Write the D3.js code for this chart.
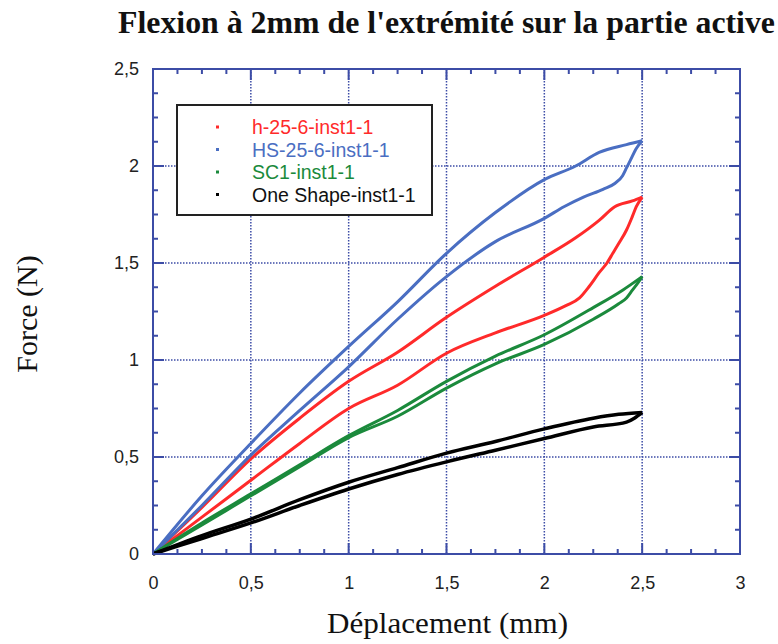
<!DOCTYPE html>
<html><head><meta charset="utf-8">
<script src="https://cdn.jsdelivr.net/npm/d3@7"></script>
<style>body{margin:0;background:#fff}svg{display:block}</style>
</head><body>
<script>
// ---- Data ----
const titleText = "Flexion à 2mm de l'extrémité sur la partie active";
const xLabel = "Déplacement (mm)";
const yLabel = "Force (N)";
const xTicks = [0, 0.5, 1, 1.5, 2, 2.5, 3];
const yTicks = [0, 0.5, 1, 1.5, 2, 2.5];
const seriesNames = ["h-25-6-inst1-1", "HS-25-6-inst1-1", "SC1-inst1-1", "One Shape-inst1-1"];
const seriesColors = ["#ff2a2a", "#4a6ec2", "#1b8a3c", "#000000"];

// loading branch (x, force) and unloading branch
const redLoadX  = [0, 0.25, 0.5, 0.75, 1, 1.25, 1.5, 1.75, 2, 2.16, 2.28, 2.36, 2.45, 2.5];
const redLoadY  = [0, 0.24, 0.49, 0.70, 0.89, 1.04, 1.22, 1.38, 1.53, 1.63, 1.72, 1.79, 1.82, 1.84];
const redUnlX   = [2.5, 2.47, 2.45, 2.42, 2.38, 2.35, 2.32, 2.28, 2.23, 2.18, 2.11, 2.0, 1.75, 1.5, 1.25, 1.0, 0.75, 0.5, 0.25, 0];
const redUnlY   = [1.84, 1.79, 1.74, 1.67, 1.60, 1.55, 1.50, 1.45, 1.38, 1.32, 1.28, 1.23, 1.14, 1.035, 0.87, 0.75, 0.57, 0.38, 0.19, 0];

const blueLoadX = [0, 0.25, 0.5, 0.75, 1, 1.25, 1.5, 1.75, 2, 2.16, 2.28, 2.42, 2.5];
const blueLoadY = [0, 0.30, 0.57, 0.83, 1.07, 1.30, 1.55, 1.76, 1.93, 2.0, 2.07, 2.11, 2.13];
const blueUnlX  = [2.5, 2.47, 2.44, 2.42, 2.4, 2.36, 2.3, 2.2, 2.1, 2.0, 1.75, 1.5, 1.25, 1.0, 0.75, 0.5, 0.25, 0];
const blueUnlY  = [2.13, 2.09, 2.03, 1.99, 1.95, 1.91, 1.88, 1.84, 1.79, 1.73, 1.61, 1.43, 1.21, 0.965, 0.74, 0.51, 0.25, 0];

const greenLoadX = [0, 0.25, 0.5, 0.75, 1, 1.25, 1.5, 1.75, 2, 2.25, 2.4, 2.5];
const greenLoadY = [0, 0.16, 0.31, 0.46, 0.61, 0.74, 0.89, 1.02, 1.13, 1.27, 1.36, 1.43];
const greenUnlX  = [2.5, 2.48, 2.45, 2.42, 2.38, 2.25, 2.0, 1.75, 1.5, 1.25, 1.0, 0.75, 0.5, 0.25, 0];
const greenUnlY  = [1.43, 1.40, 1.36, 1.32, 1.29, 1.21, 1.08, 0.98, 0.855, 0.71, 0.60, 0.45, 0.30, 0.15, 0];

const blackLoadX = [0, 0.25, 0.5, 0.75, 1, 1.25, 1.5, 1.75, 2, 2.25, 2.38, 2.5];
const blackLoadY = [0, 0.095, 0.18, 0.28, 0.37, 0.445, 0.52, 0.58, 0.645, 0.70, 0.72, 0.73];
const blackUnlX  = [2.5, 2.46, 2.42, 2.25, 2.0, 1.75, 1.5, 1.25, 1.0, 0.75, 0.5, 0.25, 0];
const blackUnlY  = [0.73, 0.70, 0.68, 0.655, 0.595, 0.535, 0.475, 0.41, 0.335, 0.25, 0.16, 0.08, 0];

const series = [
  {name: seriesNames[0], color: seriesColors[0], branches: [[redLoadX, redLoadY], [redUnlX, redUnlY]]},
  {name: seriesNames[1], color: seriesColors[1], branches: [[blueLoadX, blueLoadY], [blueUnlX, blueUnlY]]},
  {name: seriesNames[2], color: seriesColors[2], branches: [[greenLoadX, greenLoadY], [greenUnlX, greenUnlY]]},
  {name: seriesNames[3], color: seriesColors[3], branches: [[blackLoadX, blackLoadY], [blackUnlX, blackUnlY]]}
];

// ---- Layout ----
const W = 778, H = 644;
const L = 153, R = 740, T = 69, B = 554;
const axisColor = "#3c4ca6";
const serif = "Liberation Serif, Times New Roman, serif";
const sans = "Liberation Sans, Arial, sans-serif";

const svg = d3.select("body").append("svg").attr("width", W).attr("height", H);
const x = d3.scaleLinear().domain([0, 3]).range([L, R]);
const y = d3.scaleLinear().domain([0, 2.5]).range([B, T]);

// grid
const g = svg.append("g");
xTicks.filter(v => v > 0 && v < 3).forEach(v => {
  g.append("line").attr("x1", x(v)).attr("x2", x(v)).attr("y1", T).attr("y2", B)
    .attr("stroke", axisColor).attr("stroke-width", 1.5).attr("stroke-dasharray", "1.5,1.5");
});
yTicks.filter(v => v > 0 && v < 2.5).forEach(v => {
  g.append("line").attr("x1", L).attr("x2", R).attr("y1", y(v)).attr("y2", y(v))
    .attr("stroke", axisColor).attr("stroke-width", 1.5).attr("stroke-dasharray", "1.5,1.5");
});

// legend
const lg = svg.append("g");
lg.append("rect").attr("x", 177).attr("y", 105).attr("width", 255).attr("height", 110)
  .attr("fill", "#fff").attr("stroke", "#222").attr("stroke-width", 2);
series.forEach((s, i) => {
  const yy = 127 + i * 22.5;
  lg.append("rect").attr("x", 216).attr("y", yy - 1.5).attr("width", 3).attr("height", 3).attr("fill", s.color);
  lg.append("text").attr("x", 252).attr("y", yy + 7).text(s.name)
    .attr("font-family", sans).attr("font-size", 19.5).attr("fill", s.color === "#000000" ? "#111" : s.color);
});

// curves
const line = d3.line().x(d => x(d[0])).y(d => y(d[1])).curve(d3.curveMonotoneX);
const cg = svg.append("g");
series.forEach(s => {
  s.branches.forEach(([xs, ys]) => {
    const pts = xs.map((v, i) => [v, ys[i]]).sort((a, b) => a[0] - b[0]);
    cg.append("path").attr("d", line(pts)).attr("fill", "none")
      .attr("stroke", s.color).attr("stroke-width", s.color === "#000000" ? 3.5 : 3)
      .attr("stroke-linejoin", "round");
  });
});

// frame
svg.append("rect").attr("x", L).attr("y", T).attr("width", R - L).attr("height", B - T)
  .attr("fill", "none").attr("stroke", axisColor).attr("stroke-width", 2);

// ticks (inward, all sides)
const tg = svg.append("g").attr("stroke", axisColor).attr("stroke-width", 2);
const xMinor = d3.range(0, 3.0001, 0.125);
const yMinor = d3.range(0, 2.5001, 0.125);
xMinor.forEach(v => {
  const major = Math.abs(v * 2 - Math.round(v * 2)) < 1e-6;
  const len = major ? 11 : 5;
  tg.append("line").attr("x1", x(v)).attr("x2", x(v)).attr("y1", B).attr("y2", B - len);
  tg.append("line").attr("x1", x(v)).attr("x2", x(v)).attr("y1", T).attr("y2", T + len);
});
yMinor.forEach(v => {
  const major = Math.abs(v * 2 - Math.round(v * 2)) < 1e-6;
  const len = major ? 11 : 5;
  tg.append("line").attr("x1", L).attr("x2", L + len).attr("y1", y(v)).attr("y2", y(v));
  tg.append("line").attr("x1", R).attr("x2", R - len).attr("y1", y(v)).attr("y2", y(v));
});

// tick labels
const fmt = v => String(v).replace(".", ",");
const xAxis = d3.axisBottom(x).tickValues(xTicks).tickFormat(fmt).tickSize(0).tickPadding(0);
const xa = svg.append("g").attr("transform", `translate(0,${B + 22})`).call(xAxis);
xa.select(".domain").remove();
xa.selectAll("text").attr("font-family", sans).attr("font-size", 18).attr("fill", "#222").attr("dy", "0.71em");
const yAxis = d3.axisLeft(y).tickValues(yTicks).tickFormat(fmt).tickSize(0).tickPadding(0);
const ya = svg.append("g").attr("transform", `translate(${L - 14},0)`).call(yAxis);
ya.select(".domain").remove();
ya.selectAll("text").attr("font-family", sans).attr("font-size", 18).attr("fill", "#222");

// titles
svg.append("text").attr("x", 446.5).attr("y", 33).attr("text-anchor", "middle")
  .attr("font-family", serif).attr("font-weight", "bold")
  .attr("font-size", 31).attr("textLength", 657).attr("lengthAdjust", "spacingAndGlyphs")
  .attr("fill", "#111").text(titleText);
svg.append("text").attr("x", 447.5).attr("y", 633).attr("text-anchor", "middle")
  .attr("font-family", serif).attr("font-size", 29).attr("textLength", 241).attr("lengthAdjust", "spacingAndGlyphs")
  .attr("fill", "#111").text(xLabel);
svg.append("text").attr("transform", "translate(37,314) rotate(-90)").attr("text-anchor", "middle")
  .attr("font-family", serif).attr("font-size", 30).attr("fill", "#111").text(yLabel);
</script>
</body></html>
